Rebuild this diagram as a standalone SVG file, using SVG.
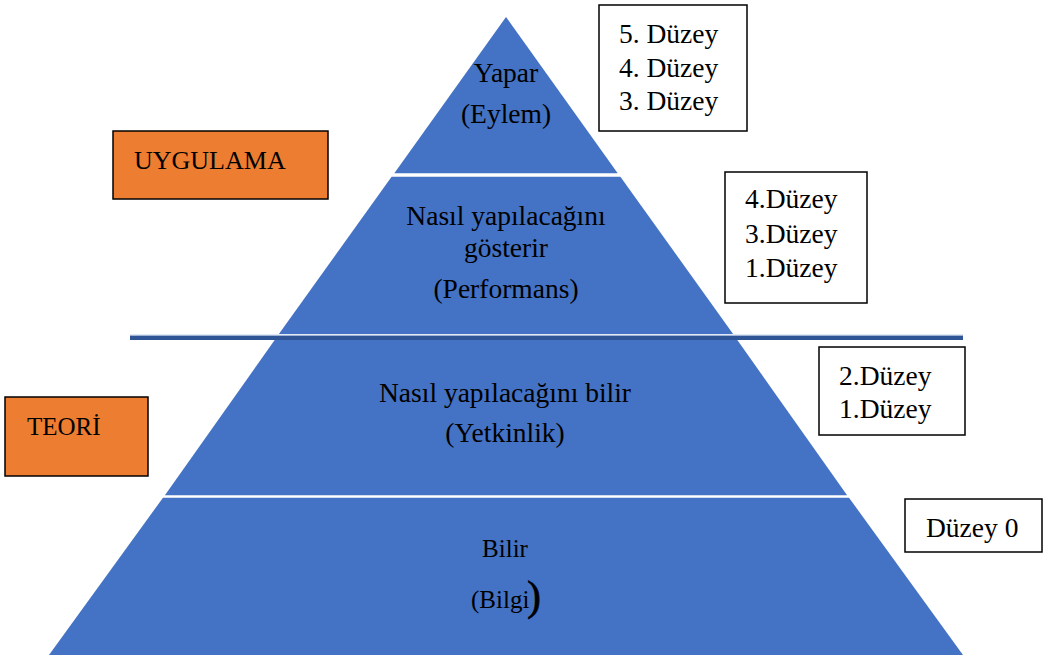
<svg xmlns="http://www.w3.org/2000/svg" width="1049" height="657" viewBox="0 0 1049 657">
<style>
.band{fill:#4472C4}
.t{font-family:"Liberation Serif","Times New Roman",serif;font-size:27.5px;fill:#000}
.c{text-anchor:middle}
.box{fill:#fff;stroke:#000;stroke-width:1.5}
.obox{fill:#ED7D31;stroke:#000;stroke-width:1.5}
</style>
<rect width="1049" height="657" fill="#fff"/>
<g id="level-eylem">
<polygon class="band" points="506,17 617.7,173.3 394.3,173.3"/>
<text class="t c" x="506" y="82">Yapar</text>
<text class="t c" x="506" y="123">(Eylem)</text>
</g>
<g id="level-performans">
<polygon class="band" points="391.6,176.7 620.4,176.7 733.1,334 278.9,334"/>
<text class="t c" x="506" y="225">Nasıl yapılacağını</text>
<text class="t c" x="506" y="257">gösterir</text>
<text class="t c" x="506" y="298">(Performans)</text>
</g>
<g id="level-yetkinlik">
<polygon class="band" points="276.8,337 735.2,337 847.1,495.2 164.9,495.2"/>
<text class="t c" x="505" y="402">Nasıl yapılacağını bilir</text>
<text class="t c" x="505" y="442">(Yetkinlik)</text>
</g>
<g id="level-bilgi">
<polygon class="band" points="163,497.7 849,497.7 963,655 49,655"/>
<text class="t c" x="505" y="557" style="font-size:25px">Bilir</text>
<text class="t" x="471" y="608" style="font-size:25px">(Bilgi</text>
<text class="t" x="527" y="610" style="font-size:42px;stroke:#000;stroke-width:0.6">)</text>
</g>
<g id="divider">
<rect x="130" y="335.5" width="833" height="4.5" fill="#2F5597"/>
<line x1="130" y1="335" x2="963" y2="335" stroke="#B4C7E7" stroke-width="0.8"/>
</g>
<g id="box-eylem-levels">
<rect class="box" x="599" y="5" width="148" height="126"/>
<text class="t" x="619" y="43">5. Düzey</text>
<text class="t" x="619" y="77">4. Düzey</text>
<text class="t" x="619" y="110">3. Düzey</text>
</g>
<g id="box-performans-levels">
<rect class="box" x="725" y="172" width="142" height="131"/>
<text class="t" x="745" y="208">4.Düzey</text>
<text class="t" x="745" y="243">3.Düzey</text>
<text class="t" x="745" y="277">1.Düzey</text>
</g>
<g id="box-yetkinlik-levels">
<rect class="box" x="819" y="347" width="146" height="88"/>
<text class="t" x="839" y="385">2.Düzey</text>
<text class="t" x="839" y="418">1.Düzey</text>
</g>
<g id="box-bilgi-levels">
<rect class="box" x="905" y="499" width="137" height="53"/>
<text class="t" x="926" y="537">Düzey 0</text>
</g>
<g id="uygulama">
<rect class="obox" x="113" y="131" width="215" height="68"/>
<text class="t" x="134" y="169" style="font-size:26px">UYGULAMA</text>
</g>
<g id="teori">
<rect class="obox" x="5" y="397" width="143" height="79"/>
<text class="t" x="27" y="435" style="font-size:25px">TEORİ</text>
</g>
</svg>
